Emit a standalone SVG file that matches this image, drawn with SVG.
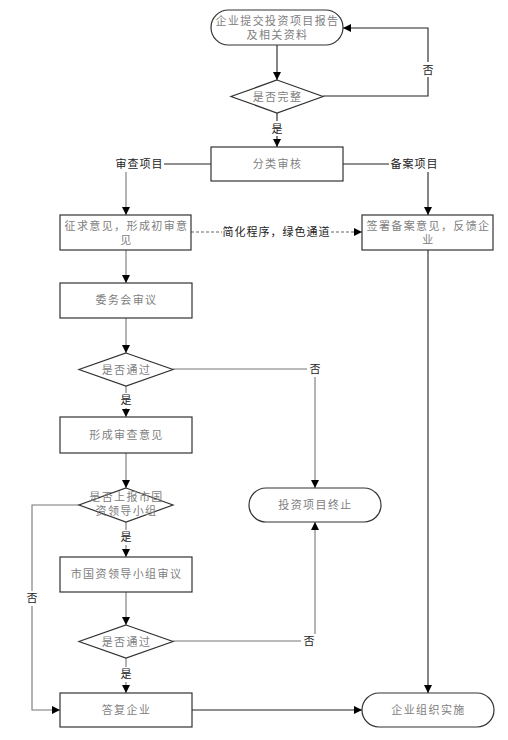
<svg xmlns="http://www.w3.org/2000/svg" width="508" height="740" viewBox="0 0 508 740">
<style>
.n{fill:#fff;stroke:#333;stroke-width:1.2}
.t{font-family:"Liberation Serif","Noto Sans CJK SC",serif;font-size:11px;fill:#808080;text-anchor:middle;letter-spacing:1.4px}
.l{font-family:"Liberation Serif","Noto Sans CJK SC",serif;font-size:11px;fill:#222;text-anchor:middle;letter-spacing:1px}
.c{fill:none;stroke:#222;stroke-width:1.1}
.g{stroke:#777}
.d{stroke-dasharray:3,2;stroke:#666}
.lb{fill:#fff}
</style>
<defs>
<marker id="a" viewBox="0 0 10 10" refX="10" refY="5" markerWidth="8" markerHeight="8" markerUnits="userSpaceOnUse" orient="auto">
<path d="M0,0L10,5L0,10z" fill="#000"/>
</marker>
</defs>
<g id="connectors">
<path class="c" d="M277,45V80" marker-end="url(#a)"/>
<path class="c" d="M323,96H428V28H343" marker-end="url(#a)"/>
<path class="c" d="M277,113V147" marker-end="url(#a)"/>
<path class="c" d="M211,164H126"/>
<path class="c g" d="M126,164V215" marker-end="url(#a)"/>
<path class="c" d="M343,164H428V215" marker-end="url(#a)"/>
<path class="c d" d="M191,232H362" marker-end="url(#a)"/>
<path class="c g" d="M126,250V283" marker-end="url(#a)"/>
<path class="c g" d="M126,318V353" marker-end="url(#a)"/>
<path class="c g" d="M173,369H315V488" marker-end="url(#a)"/>
<path class="c g" d="M126,386V417" marker-end="url(#a)"/>
<path class="c g" d="M126,453V488" marker-end="url(#a)"/>
<path class="c g" d="M79,505H32V710H60" marker-end="url(#a)"/>
<path class="c g" d="M126,522V557" marker-end="url(#a)"/>
<path class="c g" d="M126,592V625" marker-end="url(#a)"/>
<path class="c g" d="M173,641H315V522" marker-end="url(#a)"/>
<path class="c g" d="M126,658V693" marker-end="url(#a)"/>
<path class="c" d="M192,710H362" marker-end="url(#a)"/>
<path class="c" d="M428,250V693" marker-end="url(#a)"/>
<rect class="lb" x="420" y="62" width="16" height="15"/><text class="l" x="428.5" y="74">否</text>
<rect class="lb" x="270" y="121" width="15" height="15"/><text class="l" x="277.5" y="133">是</text>
<rect class="lb" x="114" y="157" width="50" height="15"/><text class="l" x="139.5" y="168">审查项目</text>
<rect class="lb" x="389" y="157" width="50" height="15"/><text class="l" x="414.5" y="168">备案项目</text>
<rect class="lb" x="222" y="225" width="108" height="15"/><text class="l" x="276.5" y="236">简化程序，绿色通道</text>
<rect class="lb" x="307" y="362" width="16" height="15"/><text class="l" x="315.5" y="373">否</text>
<rect class="lb" x="118" y="393" width="16" height="15"/><text class="l" x="126.5" y="404">是</text>
<rect class="lb" x="118" y="530" width="16" height="15"/><text class="l" x="126.5" y="541">是</text>
<rect class="lb" x="24" y="591" width="16" height="15"/><text class="l" x="32.5" y="602">否</text>
<rect class="lb" x="301" y="634" width="16" height="15"/><text class="l" x="309.5" y="645">否</text>
<rect class="lb" x="118" y="667" width="16" height="15"/><text class="l" x="126.5" y="678">是</text>
</g>
<g id="start"><rect class="n" x="211" y="10" width="132" height="35" rx="17.5"/><text class="t" x="277.5" y="25">企业提交投资项目报告</text><text class="t" x="277.5" y="39">及相关资料</text></g>
<g id="check1"><path class="n" d="M277,80L323,96.5L277,113L231,96.5z"/><text class="t" x="277.5" y="100.5">是否完整</text></g>
<g id="classify"><rect class="n" x="211" y="147" width="132" height="34"/><text class="t" x="277.5" y="168">分类审核</text></g>
<g id="solicit"><rect class="n" x="60" y="215" width="131" height="35"/><text class="t" x="126.5" y="230">征求意见，形成初审意</text><text class="t" x="126.5" y="244">见</text></g>
<g id="record"><rect class="n" x="362" y="215" width="131" height="35"/><text class="t" x="428.5" y="230">签署备案意见，反馈企</text><text class="t" x="428.5" y="244">业</text></g>
<g id="committee"><rect class="n" x="60" y="283" width="132" height="35"/><text class="t" x="126.5" y="304">委务会审议</text></g>
<g id="pass1"><path class="n" d="M126,353L173,369.5L126,386L79,369.5z"/><text class="t" x="126.5" y="373.5">是否通过</text></g>
<g id="opinion"><rect class="n" x="60" y="417" width="132" height="36"/><text class="t" x="126.5" y="439">形成审查意见</text></g>
<g id="report"><path class="n" d="M126,488L173,505L126,522L79,505z"/><text class="t" x="126.5" y="501">是否上报市国</text><text class="t" x="126.5" y="515">资领导小组</text></g>
<g id="terminate"><rect class="n" x="249" y="488" width="132" height="34" rx="17"/><text class="t" x="315.5" y="509">投资项目终止</text></g>
<g id="group"><rect class="n" x="60" y="557" width="132" height="35"/><text class="t" x="126.5" y="578">市国资领导小组审议</text></g>
<g id="pass2"><path class="n" d="M126,625L173,641.5L126,658L79,641.5z"/><text class="t" x="126.5" y="645.5">是否通过</text></g>
<g id="reply"><rect class="n" x="60" y="693" width="132" height="34"/><text class="t" x="126.5" y="714">答复企业</text></g>
<g id="implement"><rect class="n" x="362" y="693" width="132" height="34" rx="17"/><text class="t" x="428.5" y="714">企业组织实施</text></g>
</svg>
